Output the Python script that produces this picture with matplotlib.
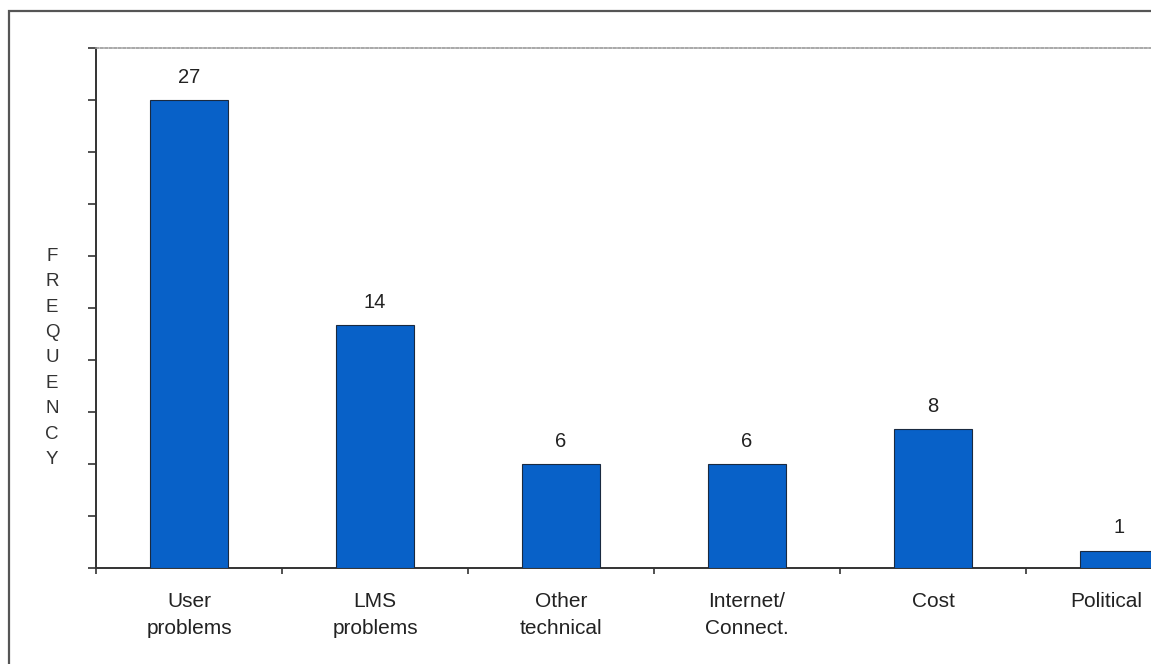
import matplotlib
matplotlib.use("Agg")
import matplotlib.pyplot as plt
from matplotlib.patches import Rectangle
import matplotlib.transforms as mtransforms
import numpy as np

categories = ["User\nproblems", "LMS\nproblems", "Other\ntechnical",
              "Internet/\nConnect.", "Cost", "Political"]
values = [27, 14, 6, 6, 8, 1]
y_label = "FREQUENCY"

plt.rcParams['font.family'] = ['Liberation Sans', 'DejaVu Sans']

W, H = 1151, 664
fig = plt.figure(figsize=(W / 100, H / 100), dpi=100)
fig.patch.set_facecolor("white")

# outer frame (cropped on right/bottom)
fig.patches.append(Rectangle((9 / W, -0.2), 1.5, (1 - 11 / H) + 0.2,
                             transform=fig.transFigure, fill=False,
                             edgecolor="#555555", linewidth=1.6, clip_on=False))

ax = fig.add_axes([96 / W, (H - 568) / H, 1116 / W, 520 / H])
x = np.arange(len(values))
bars = ax.bar(x, values, width=0.414, color="#0861C8", edgecolor="#1a2a40",
              linewidth=0.8, zorder=3)

for xi, v in zip(x, values):
    ax.annotate(str(v), (xi, v), xytext=(0, 12.5), textcoords="offset points",
                ha="center", va="baseline", fontsize=14.5, color="#222222")

ax.set_xlim(-0.5, len(values) - 0.5)
ax.set_ylim(0, 30)
ax.set_yticks(np.arange(0, 31, 3))
ax.set_yticklabels([])
ax.tick_params(axis="y", direction="out", length=6, width=1.2, color="#333333")

ax.set_xticks(x)
ax.set_xticklabels(categories, fontsize=15, color="#222222", linespacing=1.55)
ax.tick_params(axis="x", which="major", length=0, pad=17)
ax.set_xticks(np.arange(-0.5, len(values) + 0.5, 1), minor=True)
ax.tick_params(axis="x", which="minor", direction="out", length=4.5, width=1.2,
               color="#333333")

# last label shifted left to stay inside the (cropped) picture
last = ax.get_xticklabels()[-1]
last.set_transform(last.get_transform() +
                   mtransforms.ScaledTranslation(-13 / 100, 0, fig.dpi_scale_trans))

for s in ["left", "bottom"]:
    ax.spines[s].set_color("#333333")
    ax.spines[s].set_linewidth(1.4)
ax.spines["right"].set_visible(False)
ax.spines["top"].set_color("#9a9a9a")
ax.spines["top"].set_linestyle((0, (1.5, 1.2)))
ax.spines["top"].set_linewidth(1.2)

fig.text(52 / W, 1 - 358 / H, "\n".join(y_label), ha="center", va="center",
         fontsize=13.5, color="#333333", linespacing=1.65)

fig.savefig("out.png", dpi=100)
